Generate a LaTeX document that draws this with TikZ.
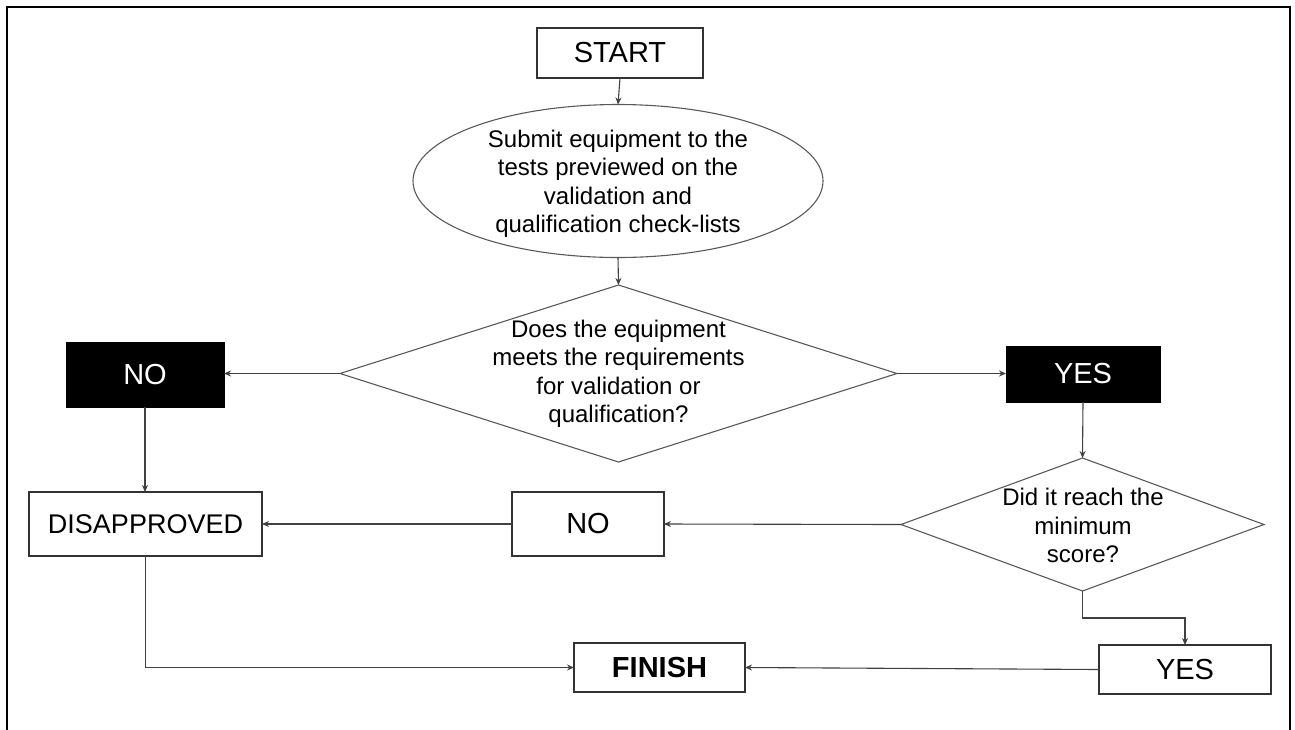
\documentclass[tikz,border=0pt]{standalone}
\usepackage{fontspec}
\setmainfont{Liberation Sans}
\usetikzlibrary{shapes.geometric,arrows.meta}
\begin{document}
\begin{tikzpicture}[x=1pt,y=-1pt,
  box/.style={draw=black!80,line width=1.1pt,fill=white,rectangle,inner sep=0pt,outer sep=0pt,font=\fontsize{29}{33}\selectfont},
  darkbox/.style={fill=black,draw=black,rectangle,inner sep=0pt,outer sep=0pt,text=white,font=\fontsize{29}{33}\selectfont},
  shapeline/.style={draw=black!65,line width=1.1pt,inner sep=0pt,outer sep=0pt},
  txt/.style={align=center,inner sep=0pt,font=\fontsize{24}{28.5}\selectfont},
  conn/.style={draw=black!75,line width=1.1pt,-{Stealth[length=7pt,width=6pt]}},
  plain/.style={draw=black!75,line width=1.1pt}]
\useasboundingbox (0,0) rectangle (1295,729);
\draw[line width=2pt] (7,735) -- (7,7) -- (1290,7) -- (1290,735);

\node[box,minimum width=166pt,minimum height=50pt] (start) at (620,53) {START};
\node[shapeline,ellipse,minimum width=410pt,minimum height=153pt] (ell) at (618,181) {};
\node[txt] (elltxt) at (618,184) {Submit equipment to the\\tests previewed on the\\validation and\\qualification check-lists};

\node[shapeline,diamond,minimum width=557pt,minimum height=177pt] (d1) at (618.5,373.5) {};
\node[txt] (d1txt) at (618.5,374) {Does the equipment\\meets the requirements\\for validation or\\qualification?};

\node[darkbox,minimum width=158pt,minimum height=65pt] (no1) at (145,374.5) {NO};
\node[darkbox,minimum width=154pt,minimum height=56pt] (yes1) at (1083,374) {YES};

\node[box,minimum width=233pt,minimum height=64pt,font=\fontsize{27}{31}\selectfont] (dis) at (145.5,524) {DISAPPROVED};
\node[box,minimum width=152pt,minimum height=64pt] (no2) at (588,524) {NO};

\node[shapeline,diamond,minimum width=363pt,minimum height=133pt] (d2) at (1082.5,524.5) {};
\node[txt] (d2txt) at (1083,525.5) {Did it reach the\\minimum\\score?};

\node[box,minimum width=172pt,minimum height=49pt] (yes2) at (1185,669.5) {YES};
\node[box,minimum width=171pt,minimum height=49pt,font=\bfseries\fontsize{29}{33}\selectfont] (fin) at (659.5,667.5) {FINISH};

\coordinate (bend) at (1082.5,618);

\draw[conn] (start.south) -- (ell.north);
\draw[conn] (ell.south) -- (d1.north);
\draw[conn] (d1.west) -- (d1.west -| no1.east);
\draw[conn] (d1.east) -- (d1.east -| yes1.west);
\draw[conn] (no1.south) -- (no1.south |- dis.north);
\draw[conn] (yes1.south) -- (d2.north);
\draw[conn] (d2.west) -- (no2.east);
\draw[conn] (no2.west) -- (dis.east);
\draw[conn] (d2.south) -- (bend) -| (yes2.north);
\draw[conn] (yes2.west) -- (fin.east);
\draw[conn] (dis.south) |- (fin.west);
\end{tikzpicture}
\end{document}
